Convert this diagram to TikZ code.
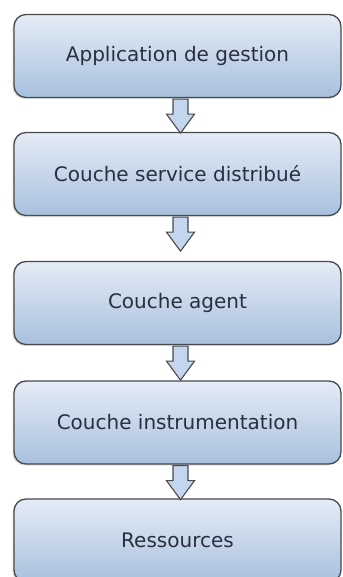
\documentclass[tikz,border=0pt]{standalone}
\usepackage{xcolor}
\usepackage{fontspec}
\setmainfont{DejaVu Sans}
\usepackage{tikz}
\usetikzlibrary{shadows}
\definecolor{boxedge}{RGB}{72,74,78}
\definecolor{boxtop}{RGB}{228,236,246}
\definecolor{boxbottom}{RGB}{168,192,222}
\definecolor{labelgray}{RGB}{40,48,62}
\definecolor{arrowfill}{RGB}{196,214,238}

\begin{document}
\begin{tikzpicture}[x=1pt, y=1pt,
        layer/.style={rectangle, rounded corners=12pt, draw=boxedge, line width=1.3pt, minimum width=327pt, minimum height=83pt, top color=boxtop, bottom color=boxbottom, text=labelgray, font=\fontsize{20}{24}\selectfont, drop shadow={shadow xshift=-1.5pt, shadow yshift=-1.5pt, opacity=0.25}},
        blockarrow/.style={draw=boxedge, line width=1.1pt, fill=arrowfill, line join=miter,
            to path={([xshift=-4.5pt,yshift=-1pt]\tikztostart) -- ([xshift=-4.5pt,yshift=-16pt]\tikztostart) -- ([xshift=-11pt,yshift=-16pt]\tikztostart) -- ([xshift=3pt,yshift=-35pt]\tikztostart) -- ([xshift=17pt,yshift=-16pt]\tikztostart) -- ([xshift=10.5pt,yshift=-16pt]\tikztostart) -- ([xshift=10.5pt,yshift=-1pt]\tikztostart) -- cycle}}]

        \clip (0,0) rectangle (342,-577);

        % Layers
        \node[layer] (app) at (177.5,-56) {Application de gestion};
        \node[layer] (svc) at (177.5,-174) {Couche service distribué};
        \node[layer] (agent) at (177.5,-303) {Couche agent};
        \node[layer] (instr) at (177.5,-422.5) {Couche instrumentation};
        \node[layer] (res) at (177.5,-540.5) {Ressources};

        % Block arrows (fixed length, hanging from the upper layer)
        \draw[blockarrow] (app.south) to (svc.north);
        \draw[blockarrow] (svc.south) to (agent.north);
        \draw[blockarrow] (agent.south) to (instr.north);
        \draw[blockarrow] (instr.south) to (res.north);

    \end{tikzpicture}
\end{document}
